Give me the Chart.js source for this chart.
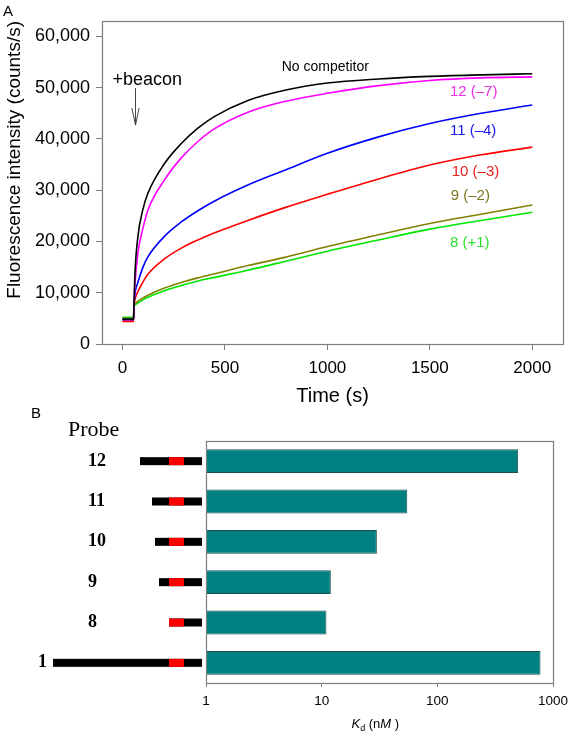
<!DOCTYPE html>
<html>
<head>
<meta charset="utf-8">
<script src="https://cdn.jsdelivr.net/npm/chart.js@4/dist/chart.umd.min.js"></script>
<style>
  html, body { margin: 0; padding: 0; background: #fff; }
  #wrap { position: relative; width: 575px; height: 739px; }
  #kinetics { position: absolute; left: 0; top: 0; }
  #affinity { position: absolute; left: 0; top: 395px; }
</style>
</head>
<body>
<div id="wrap">
  <canvas id="kinetics" width="575" height="410"></canvas>
  <canvas id="affinity" width="575" height="344"></canvas>
</div>
<script>
// Panel A: fluorescence after adding the beacon (counts/s vs time in s)
const timeS = [0, 54, 56, 60, 75, 100, 124, 205, 287, 368, 450, 612, 792, 1000, 1250, 1500, 1750, 2000];
const noCompetitor = [4800, 4800, 7300, 13000, 20900, 26300, 29400, 35200, 39100, 42100, 44400, 47500, 49500, 50900, 51700, 52200, 52500, 52700];
const probe12 = [4700, 4700, 7300, 11000, 17700, 22600, 26100, 32000, 36300, 39500, 42000, 45200, 47300, 48900, 50400, 51400, 51900, 52100];
const probe11 = [4800, 4800, 7300, 9500, 12000, 15000, 17000, 21000, 23800, 26000, 27900, 31000, 33900, 37200, 40400, 43000, 45000, 46600];
const probe10 = [4400, 4400, 7300, 8500, 10200, 12100, 13600, 16600, 18700, 20300, 21700, 24100, 26600, 29200, 32200, 34900, 36900, 38400];
const probe9 = [5000, 5000, 7400, 7800, 8300, 9000, 9500, 10900, 12000, 12900, 13700, 15300, 16900, 19000, 21300, 23500, 25300, 27100];
const probe8 = [5200, 5200, 7300, 7600, 8000, 8600, 9100, 10400, 11400, 12300, 13000, 14400, 16100, 18100, 20300, 22400, 24100, 25700];
const seriesNames = ['No competitor', '12 (\u20137)', '11 (\u20134)', '10 (\u20133)', '9 (\u20132)', '8 (+1)'];
const seriesValues = [noCompetitor, probe12, probe11, probe10, probe9, probe8];
const lineColors = ['#000000', '#ff00ff', '#0000ff', '#ff0000', '#808000', '#00e600'];
const textColors = ['#000000', '#e830e8', '#1818e8', '#e82020', '#7a7620', '#30dd30'];
const timeTicks = [0, 500, 1000, 1500, 2000];
const intensityTicks = [0, 10000, 20000, 30000, 40000, 50000, 60000];

// where each series name is written, in data units (time, counts/s)
const nameAt = [[777, 54000], [1598, 49150], [1598, 41550], [1607, 33570], [1602, 28830], [1598, 19730]];

// Panel B: dissociation constants
const probes = ['12', '11', '10', '9', '8', '1'];
const kdNM = [500, 55, 30, 12, 11, 780];
const kdTicks = [1, 10, 100, 1000];
// left black arm of each probe sketch (px), the red loop and right arm are the same for all
const probeArm = [29, 17, 14, 10, 0, 116];

const SANS = '"Liberation Sans", Arial, sans-serif';
const SERIF = '"Liberation Serif", "Times New Roman", serif';
const FRAME = '#7f7f7f';

Chart.defaults.font.family = SANS;
Chart.defaults.color = '#000';

const framePlugin = {
  id: 'frame',
  afterDraw(chart) {
    const {ctx, chartArea: a} = chart;
    ctx.save();
    ctx.strokeStyle = FRAME;
    ctx.lineWidth = 1.2;
    ctx.strokeRect(Math.round(a.left) + 0.5, Math.round(a.top) + 0.5,
      Math.round(a.right - a.left), Math.round(a.bottom - a.top));
    ctx.restore();
  }
};

const kineticsNotes = {
  id: 'kineticsNotes',
  afterDraw(chart) {
    const {ctx} = chart;
    const xs = chart.scales.x, ys = chart.scales.y;
    ctx.save();
    ctx.textBaseline = 'middle';
    ctx.textAlign = 'left';

    ctx.fillStyle = '#000';
    ctx.font = '15px ' + SANS;
    ctx.fillText('A', 3, 12);

    seriesNames.forEach((name, i) => {
      ctx.font = (i === 0 ? '14px ' : '15px ') + SANS;
      ctx.fillStyle = textColors[i];
      ctx.fillText(name, xs.getPixelForValue(nameAt[i][0]), ys.getPixelForValue(nameAt[i][1]));
    });

    // beacon addition marker
    ctx.fillStyle = '#000';
    ctx.font = '18px ' + SANS;
    ctx.fillText('+beacon', xs.getPixelForValue(-49), ys.getPixelForValue(51400));
    const ax = Math.round(xs.getPixelForValue(62)) + 0.5;
    const top = ys.getPixelForValue(49900);
    const tip = ys.getPixelForValue(42700);
    ctx.strokeStyle = '#444';
    ctx.lineWidth = 1;
    ctx.beginPath();
    ctx.moveTo(ax, top);
    ctx.lineTo(ax, tip);
    ctx.moveTo(ax - 3.6, tip - 17);
    ctx.lineTo(ax, tip);
    ctx.lineTo(ax + 3.6, tip - 17);
    ctx.stroke();
    ctx.restore();
  }
};

new Chart(document.getElementById('kinetics'), {
  type: 'line',
  data: {
    datasets: seriesValues.map((vals, i) => ({
      label: seriesNames[i],
      data: timeS.map((t, j) => ({x: t, y: vals[j]})),
      borderColor: lineColors[i],
      borderWidth: 1.6,
      pointRadius: 0,
      cubicInterpolationMode: 'monotone',
      fill: false
    }))
  },
  options: {
    responsive: false,
    animation: false,
    devicePixelRatio: 1,
    layout: { padding: { top: 21, right: 12, left: 0, bottom: 0 } },
    plugins: { legend: { display: false }, tooltip: { enabled: false } },
    scales: {
      x: {
        type: 'linear',
        min: -100,
        max: 2150,
        afterBuildTicks: axis => { axis.ticks = timeTicks.map(v => ({value: v})); },
        afterFit: scale => { scale.height = 66; },
        ticks: { font: { size: 17 }, padding: 8, maxRotation: 0, callback: v => String(v) },
        grid: { drawOnChartArea: false, drawTicks: true, tickLength: 6, color: FRAME },
        border: { display: false },
        title: { display: true, text: 'Time (s)', font: { size: 20 }, padding: { top: 0, bottom: 2 } }
      },
      y: {
        min: 0,
        max: 63000,
        afterBuildTicks: axis => { axis.ticks = intensityTicks.map(v => ({value: v})); },
        afterFit: scale => { scale.width = 102; },
        ticks: { font: { size: 18 }, padding: 6, callback: v => v.toLocaleString('en-US') },
        grid: { drawOnChartArea: false, drawTicks: true, tickLength: 6, color: FRAME },
        border: { display: false },
        title: { display: true, text: 'Fluorescence intensity (counts/s)', align: 'end', font: { size: 19 }, padding: { top: 3, bottom: 0 } }
      }
    }
  },
  plugins: [framePlugin, kineticsNotes]
});

function drawKdTitle(ctx, x, baseline) {
  const parts = [
    ['K', 'italic 13px ' + SANS, 0],
    ['d', '9px ' + SANS, 3],
    [' (n', '13px ' + SANS, 0],
    ['M', 'italic 13px ' + SANS, 0],
    [' )', '13px ' + SANS, 0]
  ];
  ctx.textBaseline = 'alphabetic';
  ctx.textAlign = 'left';
  ctx.fillStyle = '#000';
  for (const [t, f, dy] of parts) {
    ctx.font = f;
    ctx.fillText(t, x, baseline + dy);
    x += ctx.measureText(t).width;
  }
}

const probeNotes = {
  id: 'probeNotes',
  afterDraw(chart) {
    const {ctx, chartArea: a} = chart;
    const ys = chart.scales.y;
    ctx.save();
    ctx.fillStyle = '#000';
    ctx.textBaseline = 'middle';
    ctx.textAlign = 'left';
    ctx.font = '15px ' + SANS;
    ctx.fillText('B', 31, 19);
    ctx.font = '22px ' + SERIF;
    ctx.fillText('Probe', 68, 35);

    const armEnd = a.left - 4;
    probes.forEach((p, i) => {
      const y = ys.getPixelForValue(i);
      const loopStart = armEnd - 33;
      const left = loopStart - probeArm[i];
      ctx.fillStyle = '#000';
      ctx.fillRect(left, y - 4, armEnd - left, 8);
      ctx.fillStyle = '#ff0000';
      ctx.fillRect(loopStart, y - 4, 15, 8);

      ctx.fillStyle = '#000';
      ctx.font = 'bold 18px ' + SERIF;
      const w = ctx.measureText(p).width;
      const lx = Math.min(88, left - 6 - w);
      ctx.fillText(p, lx, y);
    });

    drawKdTitle(ctx, (a.left + a.right) / 2 - 28, 333);
    ctx.restore();
  }
};

new Chart(document.getElementById('affinity'), {
  type: 'bar',
  data: {
    labels: probes,
    datasets: [{
      data: kdNM,
      backgroundColor: '#008080',
      borderColor: '#1e4c4c',
      borderWidth: 1,
      borderSkipped: false,
      barPercentage: 0.59,
      categoryPercentage: 1
    }]
  },
  options: {
    indexAxis: 'y',
    responsive: false,
    animation: false,
    devicePixelRatio: 1,
    layout: { padding: { top: 46, right: 22, left: 0, bottom: 0 } },
    plugins: { legend: { display: false }, tooltip: { enabled: false } },
    scales: {
      x: {
        type: 'logarithmic',
        min: 1,
        max: 1000,
        afterBuildTicks: axis => { axis.ticks = kdTicks.map(v => ({value: v})); },
        afterFit: scale => { scale.height = 56; },
        ticks: { font: { size: 13.5 }, padding: 6, callback: v => String(v) },
        grid: { drawOnChartArea: false, drawTicks: true, tickLength: 4, color: FRAME },
        border: { display: false }
      },
      y: {
        type: 'category',
        afterFit: scale => { scale.width = 206; },
        ticks: { display: false },
        grid: { display: false },
        border: { display: false }
      }
    }
  },
  plugins: [framePlugin, probeNotes]
});
</script>
</body>
</html>
